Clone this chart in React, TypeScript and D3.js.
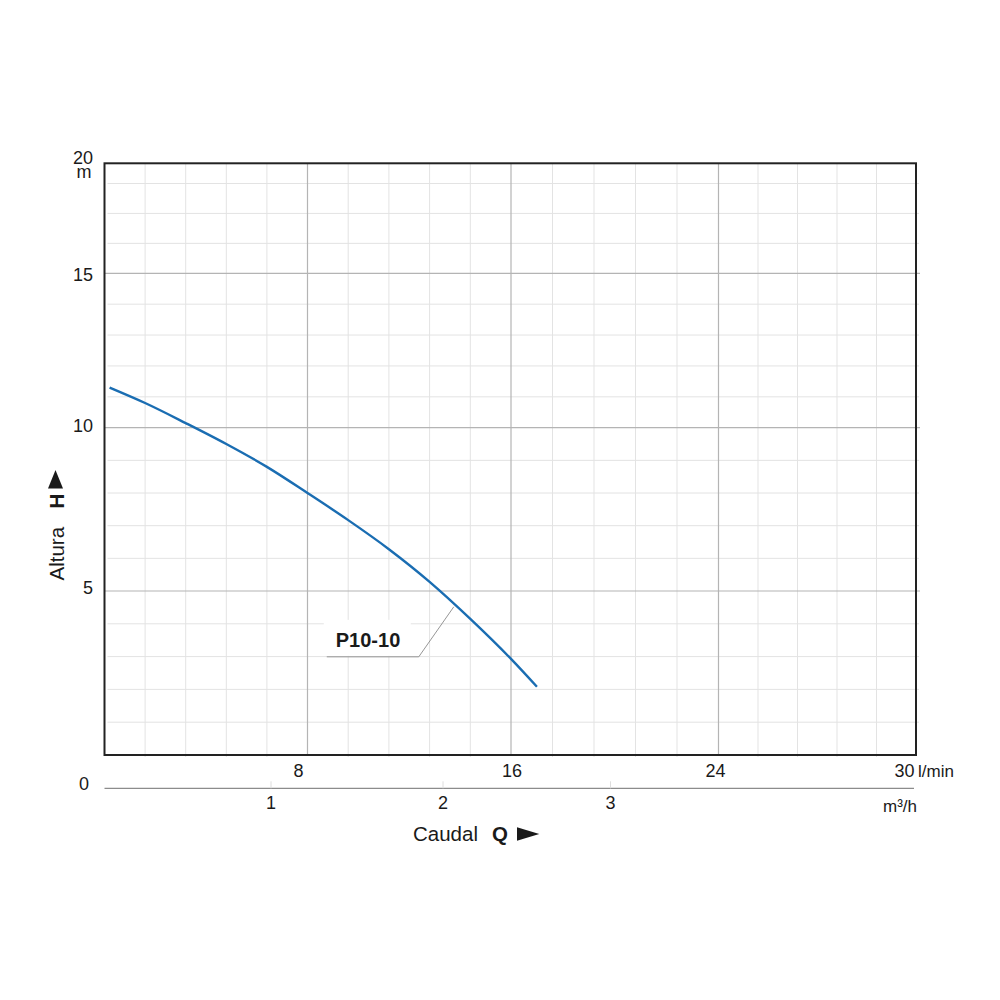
import React from 'react';
import * as d3 from 'd3';

// ---- data ----
const flowLmin = [0.2, 1.6, 3.2, 4.8, 6.4, 8.0, 9.6, 11.2, 12.8, 14.4, 16.0, 17.0];
const headM = [11.3, 10.8, 10.15, 9.5, 8.8, 8.0, 7.17, 6.28, 5.28, 4.15, 2.93, 2.08];
const curveName = 'P10-10';
const flowTicks = [8, 16, 24];
const flowEndLabel = '30';
const m3hTicks = [1, 2, 3];
const headTicks = [5, 10, 15, 20];
const headMinor = [1, 2, 3, 4, 6, 7, 8, 9, 11, 12, 13, 14, 16, 17, 18];
const flowMinorStep = 1.6;

const FONT = '"Liberation Sans", Arial, Helvetica, sans-serif';

export default function App() {
  // piecewise scales matching the hand-made grid of the reference
  const x = d3.scaleLinear().domain([0, 8, 16, 24, 32]).range([104.5, 307.5, 511, 718.5, 916]);
  const y = d3.scaleLinear().domain([0, 5, 10, 15, 18, 20]).range([755, 591, 427.7, 273.3, 183.5, 163.3]);
  const xm3 = d3.scaleLinear().domain([0, 1, 2, 3]).range([104.5, 271, 443, 610.5]);

  const [x0, x1] = [x(0), x(32)];
  const [yb, yt] = [y(0), y(20)];

  const flowMinor = d3
    .range(1, 20)
    .map((k) => +(k * flowMinorStep).toFixed(2))
    .filter((v) => !flowTicks.includes(v));

  const pts: [number, number][] = flowLmin.map((q, i) => [q, headM[i]]);
  const line = d3
    .line<[number, number]>()
    .x((d) => x(d[0]))
    .y((d) => y(d[1]))
    .curve(d3.curveMonotoneX);

  // annotation anchored on the curve
  const interp = d3.scaleLinear().domain(flowLmin).range(headM);
  const aq = 13.75;
  const ax = x(aq);
  const ay = y(interp(aq)) + 3;
  const ex = ax - 35;
  const ey = ay + 50;
  const sx = ex - 92;

  const m3Axis = 788.3;

  return (
    <svg
      width={1000}
      height={1000}
      style={{ position: 'absolute', left: 0, top: 0, background: '#fff' }}
      fontFamily={FONT}
    >
      <rect x={0} y={0} width={1000} height={1000} fill="#fff" />
      {/* minor grid */}
      {headMinor.map((v) => (
        <line key={'hm' + v} x1={x0 + 3} x2={x1 + 3} y1={y(v)} y2={y(v)} stroke="#e3e3e3" strokeWidth={1} />
      ))}
      {flowMinor.map((v) => (
        <line key={'fm' + v} x1={x(v)} x2={x(v)} y1={yt} y2={yb + 2} stroke="#e3e3e3" strokeWidth={1} />
      ))}
      {/* major grid */}
      {headTicks
        .filter((v) => v < 20)
        .map((v) => (
          <line key={'hM' + v} x1={x0} x2={x1 + 4} y1={y(v)} y2={y(v)} stroke="#b4b4b4" strokeWidth={1.2} />
        ))}
      {flowTicks.map((v) => (
        <line key={'fM' + v} x1={x(v)} x2={x(v)} y1={yt} y2={yb} stroke="#b4b4b4" strokeWidth={1.2} />
      ))}

      {/* label background */}
      <rect x={sx - 3} y={ey - 37} width={87} height={36} fill="#fff" />

      {/* frame */}
      <rect x={x0} y={yt} width={x1 - x0} height={yb - yt} fill="none" stroke="#222" strokeWidth={2} />

      {/* curve */}
      <path d={line(pts) || ''} fill="none" stroke="#1a6db2" strokeWidth={2.4} />

      {/* leader + label */}
      <polyline
        points={`${ax},${ay} ${ex},${ey} ${sx},${ey}`}
        fill="none"
        stroke="#8a8a8a"
        strokeWidth={0.9}
      />
      <text x={sx + 9} y={ey - 10} fontSize={20} fontWeight="bold" fill="#1a1a1a">
        {curveName}
      </text>

      {/* y tick labels */}
      {headTicks
        .filter((v) => v < 20)
        .map((v) => (
          <text
            key={'yl' + v}
            x={93}
            y={y(v) + (v === 15 ? 7.5 : v === 10 ? 4.5 : 3)}
            fontSize={18}
            textAnchor="end"
            fill="#1a1a1a"
          >
            {v}
          </text>
        ))}
      {/* top label with unit stacked beneath */}
      <text fontSize={18} fill="#1a1a1a">
        <tspan x={93} y={y(20) + 1} textAnchor="end">
          {headTicks[headTicks.length - 1]}
        </tspan>
        <tspan x={84} y={178} textAnchor="middle">
          m
        </tspan>
      </text>
      <text x={89} y={m3Axis + 2} fontSize={18} textAnchor="end" fill="#1a1a1a">
        0
      </text>

      {/* l/min labels */}
      {flowTicks.map((v) => (
        <text key={'xl' + v} x={x(v) + (v === 8 ? -9 : v === 24 ? -3 : 1)} y={777} fontSize={18} textAnchor="middle" fill="#1a1a1a">
          {v}
        </text>
      ))}
      <text x={x1 - 1.5} y={777} fontSize={18} textAnchor="end" fill="#1a1a1a">
        {flowEndLabel}
      </text>
      <text x={x1 + 2} y={777} fontSize={17} fill="#1a1a1a">
        l/min
      </text>

      {/* m3/h axis */}
      <line x1={x0} x2={x1 - 2} y1={m3Axis} y2={m3Axis} stroke="#8c8c8c" strokeWidth={1.3} />
      {m3hTicks.map((v) => (
        <g key={'m3' + v}>
          <line x1={xm3(v)} x2={xm3(v)} y1={m3Axis - 7} y2={m3Axis} stroke="#dedede" strokeWidth={1} />
          <text x={xm3(v)} y={809.3} fontSize={18} textAnchor="middle" fill="#1a1a1a">
            {v}
          </text>
        </g>
      ))}
      <text x={x1 + 1} y={811.5} fontSize={17} textAnchor="end" fill="#1a1a1a">
        m³/h
      </text>

      {/* x title */}
      <text x={413} y={841} fontSize={20.5} fill="#1a1a1a">
        Caudal
      </text>
      <text x={492} y={841} fontSize={20.5} fontWeight="bold" fill="#1a1a1a">
        Q
      </text>
      <path d="M517,827.3 L517,840.7 L539.3,834 Z" fill="#1a1a1a" />

      {/* y title */}
      <g transform="translate(63.5,580.5) rotate(-90)">
        <text x={0} y={0} fontSize={20.5} fill="#1a1a1a">
          Altura
        </text>
        <text x={72} y={0} fontSize={20.5} fontWeight="bold" fill="#1a1a1a">
          H
        </text>
        <path d="M92,-0.5 L92,-15.5 L110.5,-8 Z" fill="#1a1a1a" />
      </g>
    </svg>
  );
}
